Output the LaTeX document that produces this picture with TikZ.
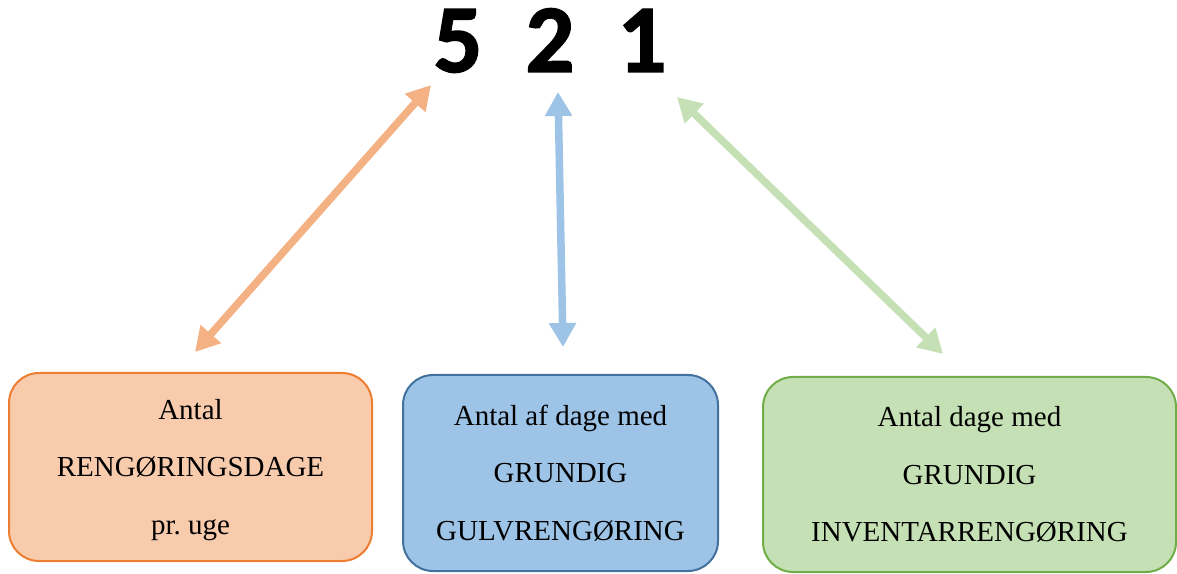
\documentclass[tikz,border=0pt]{standalone}
\usepackage{fontspec}
\setmainfont{Liberation Serif}
\newfontfamily\digitfont[BoldFeatures={FakeBold=1.5}]{Carlito}
\usetikzlibrary{arrows.meta,calc}
\frenchspacing

\definecolor{orangeFill}{HTML}{F8CBAD}
\definecolor{orangeLine}{HTML}{ED7D31}
\definecolor{orangeArrow}{HTML}{F4B183}
\definecolor{blueFill}{HTML}{9DC3E6}
\definecolor{blueLine}{HTML}{41719C}
\definecolor{blueArrow}{HTML}{9DC3E6}
\definecolor{greenFill}{HTML}{C5E0B4}
\definecolor{greenLine}{HTML}{70AD47}
\definecolor{greenArrow}{HTML}{C5E0B4}

% strut that keeps every text line the same height, centred on the capitals
\newcommand{\linestrut}{\rule[-19.25pt]{0pt}{57.5pt}}

\tikzset{
  infobox/.style={rounded corners=30pt, line width=2pt, inner sep=0pt,
    align=center, font=\fontsize{29}{57.5}\selectfont},
  digit/.style={anchor=base, inner sep=0pt,
    font=\digitfont\bfseries\fontsize{97}{97}\selectfont},
  link/.style={line width=7.5pt, {Triangle[length=24pt,width=26pt]}-{Triangle[length=24pt,width=26pt]}},
}

\begin{document}
\begin{tikzpicture}[x=1pt,y=1pt]
  \useasboundingbox (0,0) rectangle (1177,573);

  % the code digits
  \node[digit] (d5) at (458,501) {5};
  \node[digit] (d2) at (550,501) {2};
  \node[digit] (d1) at (642,501) {1};

  % the three explanation boxes
  \node[infobox, draw=orangeLine, fill=orangeFill,
        minimum width=363pt, minimum height=188pt] (ob) at (190.5,106)
    {\linestrut Antal\\ \linestrut RENGØRINGSDAGE\\ \linestrut pr. uge};
  \node[infobox, draw=blueLine, fill=blueFill,
        minimum width=315pt, minimum height=196pt] (bb) at (560.5,100)
    {\linestrut Antal af dage med\\ \linestrut GRUNDIG\\ \linestrut GULVRENGØRING};
  \node[infobox, draw=greenLine, fill=greenFill,
        minimum width=413pt, minimum height=195pt] (gb) at (969.5,98.5)
    {\linestrut Antal dage med\\ \linestrut GRUNDIG\\ \linestrut INVENTARRENGØRING};

  % arrow ends, a little clear of the digits and boxes
  \coordinate (o-top) at ($(d5.base)+(-27,-13)$);
  \coordinate (o-bot) at ($(ob.north)+(4.5,20)$);
  \coordinate (b-top) at ($(d2.base)+(8,-20)$);
  \coordinate (b-bot) at ($(bb.north)+(2.5,27)$);
  \coordinate (g-top) at ($(d1.base)+(35,-25)$);
  \coordinate (g-bot) at ($(gb.north)+(-26.5,22)$);

  \draw[link, draw=orangeArrow, fill=orangeArrow] (o-bot) -- (o-top);
  \draw[link, draw=blueArrow, fill=blueArrow] (b-bot) -- (b-top);
  \draw[link, draw=greenArrow, fill=greenArrow] (g-bot) -- (g-top);
\end{tikzpicture}
\end{document}
